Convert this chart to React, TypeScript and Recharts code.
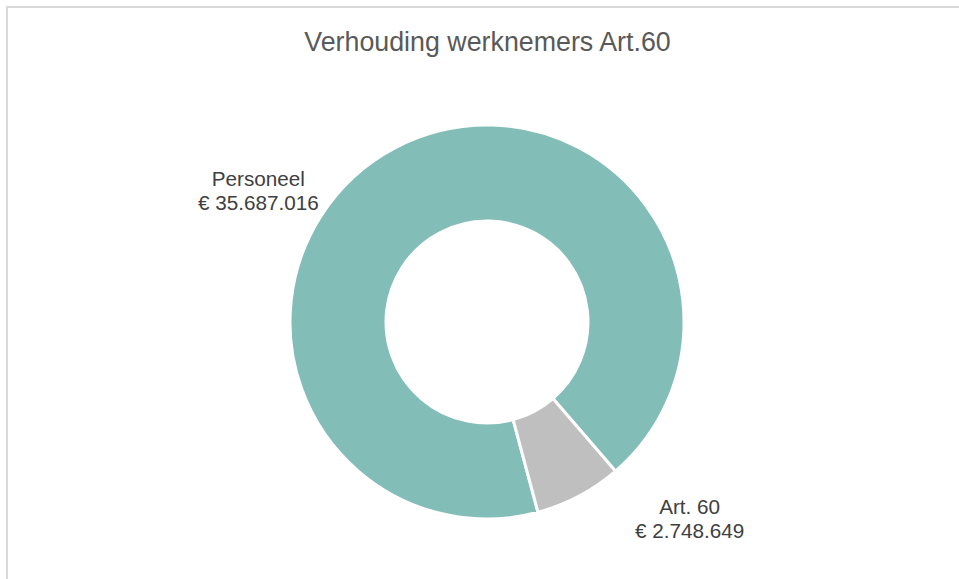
import { PieChart, Pie, Cell } from "recharts";

const categories = ["Personeel", "Art. 60"];
const amounts = [35687016, 2748649];
const labelTexts = ["€ 35.687.016", "€ 2.748.649"];

const colors = ["#82BEB7", "#BFBFBF"];

// Excel "best fit" places the labels away from the slice middle
const labelPlacement: Record<string, { angle: number; radius: number }> = {
  Personeel: { angle: 150, radius: 1.34 },
  "Art. 60": { angle: -44, radius: 1.43 },
};

const data = categories.map((name, i) => ({ name, value: amounts[i], text: labelTexts[i] }));

const RADIAN = Math.PI / 180;

function renderLabel(props: any) {
  const { cx, cy, outerRadius, index } = props;
  const item = data[index];
  const place = labelPlacement[item.name];
  const r = outerRadius * place.radius;
  const x = cx + r * Math.cos(place.angle * RADIAN);
  const y = cy - r * Math.sin(place.angle * RADIAN);
  return (
    <text
      x={x}
      y={y}
      textAnchor="middle"
      fill="#404040"
      fontSize={20.7}
      fontFamily="'Liberation Sans', Arial, sans-serif"
    >
      <tspan x={x} dy={-4}>{item.name}</tspan>
      <tspan x={x} dy={24}>{item.text}</tspan>
    </text>
  );
}

export default function App() {
  return (
    <div
      style={{
        position: "absolute",
        top: 0,
        left: 0,
        width: 959,
        height: 579,
        background: "#fff",
        overflow: "hidden",
      }}
    >
      <div
        style={{
          position: "absolute",
          left: 6,
          top: 6,
          width: 960,
          height: 600,
          border: "2px solid #D9D9D9",
          boxSizing: "border-box",
        }}
      />
      <div
        style={{
          position: "absolute",
          top: 27,
          left: 0,
          width: 975,
          textAlign: "center",
          fontFamily: "'Liberation Sans', Arial, sans-serif",
          fontSize: 26.8,
          color: "#595959",
        }}
      >
        Verhouding werknemers Art.60
      </div>
      <div style={{ position: "absolute", top: 0, left: 0, width: 959, height: 579 }}>
        <PieChart width={959} height={579} margin={{ top: 0, right: 0, bottom: 0, left: 0 }}>
          <Pie
            data={data}
            dataKey="value"
            nameKey="name"
            cx={487}
            cy={322}
            innerRadius={101}
            outerRadius={197}
            startAngle={-75}
            endAngle={-435}
            stroke="#fff"
            strokeWidth={3}
            label={renderLabel}
            labelLine={false}
            isAnimationActive={false}
          >
            {data.map((entry, i) => (
              <Cell key={entry.name} fill={colors[i]} />
            ))}
          </Pie>
        </PieChart>
      </div>
    </div>
  );
}
